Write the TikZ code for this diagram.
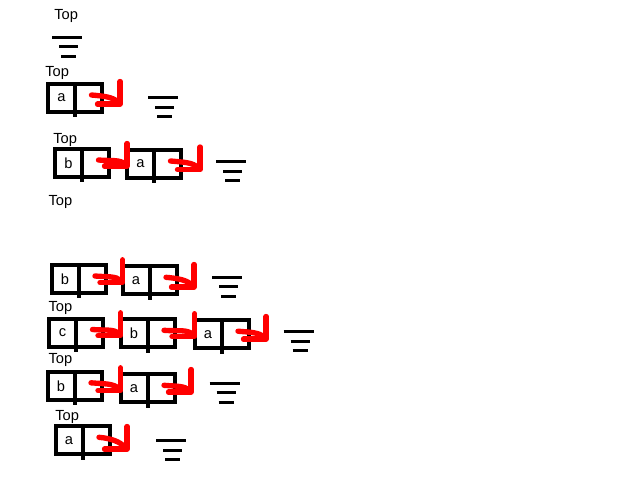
\documentclass[tikz,border=0pt]{standalone}
\usepackage{fontspec}
\setmainfont{Liberation Sans}
\usetikzlibrary{
  arrows.meta,
  calc,
  positioning,
}
\tikzset{
  >={Straight Barb[length=12pt, width=24pt, round]},
  cell/.style={draw, line width=3pt, minimum width=20.25pt, minimum height=21pt,
    inner sep=0pt, outer sep=0pt, font=\fontsize{11}{13}\selectfont},
  ptrcell/.style={cell, right=0pt of #1,
    append after command={(\tikzlastnode.south west) edge[line width=3pt]
      ([yshift=-4pt]\tikzlastnode.south west)}},
  ptr/.style={->, red, line width=4pt, line cap=round},
  toplabel/.style={anchor=base west, inner sep=0pt, font=\fontsize{11}{13}\selectfont},
  nil/.pic={\draw[line width=2.25pt] (-15,0) -- (15,0) (-8,-9.5) -- (11,-9.5)
    (-6,-19) -- (9,-19);},
}

\begin{document}
\begin{tikzpicture}[x=0.75pt, y=0.75pt]
  \useasboundingbox (0,0) rectangle (640,-480);

  % empty stack
  \node [toplabel] (top0) at (54,-19) {Top};
  \pic at (67,-37) {nil};

  % push a
  \node [toplabel] (top1) at (45,-76.5) {Top};
  \node [cell] (a1) at (61.5,-98) {a};
  \node [ptrcell=a1] (a1ptr) {};
  \coordinate (end1) at (122,-106);
  \pic at (163,-97.7) {nil};
  \draw [ptr] ($(a1ptr.center)+(3,3)$) to[out=-5, in=135] (end1);

  % push b
  \node [toplabel] (top2) at (53,-143) {Top};
  \node [cell] (b2) at (68.5,-163) {b};
  \node [ptrcell=b2] (b2ptr) {};
  \node [cell] (a2) at (140.5,-164) {a};
  \node [ptrcell=a2] (a2ptr) {};
  \coordinate (end2) at (202,-171.5);
  \pic at (231,-161.7) {nil};
  \draw [ptr] ($(b2ptr.center)+(3,3)$) to[out=-5, in=135] ($(a2.west)+(2,-4)$);
  \draw [ptr] ($(a2ptr.center)+(3,3)$) to[out=-5, in=135] (end2);

  \node [toplabel] (top3) at (48.3,-205.7) {Top};

  \node [cell] (b4) at (65,-279) {b};
  \node [ptrcell=b4] (b4ptr) {};
  \node [cell] (a4) at (136,-280.3) {a};
  \node [ptrcell=a4] (a4ptr) {};
  \coordinate (end4) at (196,-289);
  \pic at (227,-277.3) {nil};
  \draw [ptr] ($(b4ptr.center)+(3,3)$) to[out=-5, in=135] ($(a4.west)+(2,-4)$);
  \draw [ptr] ($(a4ptr.center)+(3,3)$) to[out=-5, in=135] (end4);

  % push c
  \node [toplabel] (top5) at (48.3,-311.7) {Top};
  \node [cell] (c5) at (62.5,-332.5) {c};
  \node [ptrcell=c5] (c5ptr) {};
  \node [cell] (b5) at (134,-333.3) {b};
  \node [ptrcell=b5] (b5ptr) {};
  \node [cell] (a5) at (208,-334.2) {a};
  \node [ptrcell=a5] (a5ptr) {};
  \coordinate (end5) at (268,-341);
  \pic at (298.7,-331.7) {nil};
  \draw [ptr] ($(c5ptr.center)+(3,3)$) to[out=-5, in=135] ($(b5.west)+(2,-4)$);
  \draw [ptr] ($(b5ptr.center)+(3,3)$) to[out=-5, in=135] ($(a5.west)+(2,-4)$);
  \draw [ptr] ($(a5ptr.center)+(3,3)$) to[out=-5, in=135] (end5);

  % pop
  \node [toplabel] (top6) at (48.3,-363.3) {Top};
  \node [cell] (b6) at (61,-385.8) {b};
  \node [ptrcell=b6] (b6ptr) {};
  \node [cell] (a6) at (134,-388.3) {a};
  \node [ptrcell=a6] (a6ptr) {};
  \coordinate (end6) at (193,-394);
  \pic at (224.7,-383.3) {nil};
  \draw [ptr] ($(b6ptr.center)+(3,3)$) to[out=-5, in=135] ($(a6.west)+(2,-4)$);
  \draw [ptr] ($(a6ptr.center)+(3,3)$) to[out=-5, in=135] (end6);

  % pop
  \node [toplabel] (top7) at (55,-420) {Top};
  \node [cell] (a7) at (69,-440.3) {a};
  \node [ptrcell=a7] (a7ptr) {};
  \coordinate (end7) at (129,-451);
  \pic at (171,-440.7) {nil};
  \draw [ptr] ($(a7ptr.center)+(3,3)$) to[out=-5, in=135] (end7);
\end{tikzpicture}
\end{document}
